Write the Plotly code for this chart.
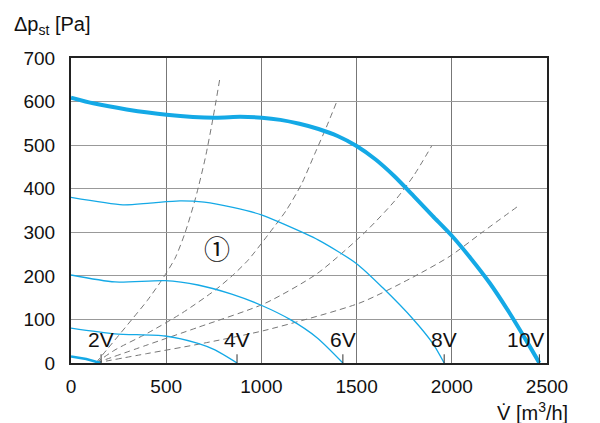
import plotly.graph_objects as go

# Fan curves (flow m3/h, static pressure Pa)
v10_x = [0, 117, 292, 502, 756, 888, 1002, 1100, 1200, 1300, 1400, 1500, 1600, 1700, 1800,
         1900, 2000, 2100, 2200, 2300, 2400, 2460]
v10_y = [609, 596, 582, 570, 563, 565, 563, 558, 549, 537, 521, 498, 467, 428, 383,
         337, 292, 240, 183, 117, 45, 0]

v8_x = [0, 273, 415, 572, 700, 850, 1000, 1100, 1300, 1500, 1639, 1796, 1900, 1960]
v8_y = [380, 363, 367, 372, 369, 357, 340, 322, 282, 228, 172, 101, 45, 0]

v6_x = [0, 231, 494, 667, 844, 1002, 1150, 1292, 1428]
v6_y = [202, 186, 189, 179, 158, 132, 100, 58, 0]

v4_x = [0, 231, 494, 667, 756, 872]
v4_y = [80, 67, 62, 45, 30, 0]

v2_x = [0, 80, 155]
v2_y = [15, 9, 0]

# Dashed system curves
d1_x = [130, 231, 318, 400, 476, 546, 600, 655, 705, 745, 783]
d1_y = [0, 53, 99, 143, 190, 240, 300, 380, 470, 560, 656]
d2_x = [130, 231, 404, 581, 756, 846, 930, 1045, 1130, 1210, 1280, 1340, 1395]
d2_y = [0, 30, 69, 114, 167, 200, 236, 300, 350, 410, 480, 540, 599]
d3_x = [130, 404, 668, 1019, 1292, 1544, 1700, 1800, 1894]
d3_y = [0, 42, 82, 137, 205, 300, 372, 430, 498]
d4_x = [130, 404, 668, 1019, 1518, 1796, 1990, 2160, 2342]
d4_y = [0, 22, 43, 75, 138, 197, 245, 300, 358]

volt_labels = ["2V", "4V", "6V", "8V", "10V"]
volt_x = [158, 872, 1428, 1960, 2460]

x_ticks = [0, 500, 1000, 1500, 2000, 2500]
y_ticks = [0, 100, 200, 300, 400, 500, 600, 700]

BLUE = "#14a9e6"
fig = go.Figure()

for dx, dy in [(d1_x, d1_y), (d2_x, d2_y), (d3_x, d3_y), (d4_x, d4_y)]:
    fig.add_trace(go.Scatter(x=dx, y=dy, mode="lines",
                             line=dict(color="#777777", width=1, dash="6px,4px", shape="spline", smoothing=0.7),
                             hoverinfo="skip", showlegend=False))

for cx, cy in [(v8_x, v8_y), (v6_x, v6_y), (v4_x, v4_y)]:
    fig.add_trace(go.Scatter(x=cx, y=cy, mode="lines",
                             line=dict(color=BLUE, width=1.3, shape="spline", smoothing=0.7),
                             showlegend=False))
fig.add_trace(go.Scatter(x=v2_x, y=v2_y, mode="lines",
                         line=dict(color=BLUE, width=2.5), showlegend=False))
fig.add_trace(go.Scatter(x=v10_x, y=v10_y, mode="lines",
                         line=dict(color=BLUE, width=4, shape="spline", smoothing=0.6),
                         showlegend=False))

LBL_FONT = "Liberation Sans, Arial, sans-serif"
for lab, vx in zip(volt_labels, volt_x):
    fig.add_shape(type="line", x0=vx, x1=vx, y0=0, y1=20, xref="x", yref="y",
                  line=dict(color="#333333", width=1))
    fig.add_annotation(x=vx, y=22, text=lab, showarrow=False,
                       xanchor="right" if lab == "10V" else "center", yanchor="bottom",
                       xshift=7 if lab == "10V" else 0,
                       font=dict(family=LBL_FONT, size=21, color="#111111"))

fig.add_annotation(x=767, y=266, text="①", showarrow=False,
                   font=dict(family="Noto Sans CJK SC, DejaVu Sans", size=26, color="#111111"))

fig.add_annotation(xref="paper", yref="paper", x=-0.124, y=1.108, xanchor="left", yanchor="middle",
                   text="Δp<sub>st</sub> [Pa]", showarrow=False,
                   font=dict(family=LBL_FONT, size=20, color="#111111"))
fig.add_annotation(xref="paper", yref="paper", x=1.048, y=-0.158, xanchor="right", yanchor="middle",
                   text="V\u0307 [m<sup>3</sup>/h]", showarrow=False,
                   font=dict(family=LBL_FONT, size=20, color="#111111"))

fig.update_xaxes(range=[0, 2500], tickvals=x_ticks, ticktext=[str(t) for t in x_ticks],
                 showgrid=True, gridcolor="#777777", gridwidth=1,
                 showline=True, linecolor="#222222", linewidth=2, mirror=True,
                 zeroline=False, ticks="", ticklabelstandoff=5,
                 tickfont=dict(family=LBL_FONT, size=19, color="#111111"))
fig.update_yaxes(range=[0, 700], tickvals=y_ticks, ticktext=[str(t) for t in y_ticks],
                 showgrid=True, gridcolor="#999999", gridwidth=1,
                 showline=True, linecolor="#222222", linewidth=2, mirror=True,
                 zeroline=False, ticks="", ticklabelstandoff=10,
                 tickfont=dict(family=LBL_FONT, size=19, color="#111111"))

fig.update_layout(width=600, height=423, margin=dict(l=71, r=53, t=58, b=60),
                  plot_bgcolor="white", paper_bgcolor="white", showlegend=False)

fig.write_html("out.html")
